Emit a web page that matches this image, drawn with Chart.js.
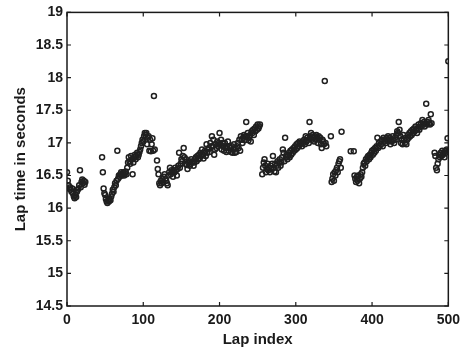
<!DOCTYPE html>
<html>
<head>
<meta charset="utf-8">
<script src="https://cdn.jsdelivr.net/npm/chart.js@4.4.0/dist/chart.umd.min.js"></script>
<style>
  html, body { margin: 0; padding: 0; background: #fff; }
  #wrap { width: 466px; height: 351px; position: relative; }
</style>
</head>
<body>
<div id="wrap"><canvas id="lapChart"></canvas></div>
<script>
// first lap index of each run of consecutive laps
const segStarts = [0, 46, 118, 256, 346, 376, 482];

// lap times (s) of each run
const seg0 = [16.55, 16.42, 16.35, 16.30, 16.32, 16.28, 16.25, 16.30, 16.22, 16.18, 16.15, 16.20, 16.17,
  16.25, 16.28, 16.30, 16.35, 16.58, 16.32, 16.40, 16.44, 16.38, 16.42, 16.36, 16.40];
const seg1 = [16.78, 16.55, 16.30, 16.23, 16.20, 16.14, 16.10, 16.08, 16.12, 16.10, 16.14, 16.12, 16.18,
  16.22, 16.28, 16.25, 16.32, 16.38, 16.35, 16.42, 16.88, 16.45, 16.50, 16.48, 16.52, 16.55, 16.50, 16.52,
  16.55, 16.50, 16.53, 16.56, 16.52, 16.62, 16.70, 16.78, 16.72, 16.68, 16.80, 16.75, 16.52, 16.70, 16.78,
  16.82, 16.75, 16.80, 16.85, 16.78, 16.82, 16.86, 16.90, 16.95, 17.00, 17.05, 17.02, 17.10, 17.15, 17.12,
  17.15, 16.98, 17.08, 17.10, 16.88, 17.05, 16.87, 16.98, 17.07, 16.88, 17.72, 16.90];
const seg2 = [16.73, 16.60, 16.52, 16.38, 16.35, 16.42, 16.38, 16.45, 16.40, 16.48, 16.52, 16.45, 16.42,
  16.38, 16.35, 16.50, 16.55, 16.62, 16.52, 16.58, 16.55, 16.48, 16.58, 16.55, 16.62, 16.58, 16.50, 16.60,
  16.65, 16.85, 16.62, 16.68, 16.75, 16.72, 16.80, 16.92, 16.78, 16.68, 16.75, 16.66, 16.60, 16.70, 16.72,
  16.65, 16.68, 16.75, 16.70, 16.72, 16.65, 16.70, 16.75, 16.78, 16.72, 16.80, 16.75, 16.82, 16.76, 16.85,
  16.80, 16.90, 16.82, 16.76, 16.85, 16.88, 16.80, 16.98, 16.85, 16.90, 16.92, 16.86, 17.00, 16.95, 17.10,
  16.95, 17.05, 16.82, 16.90, 16.98, 16.92, 17.02, 16.95, 17.00, 17.15, 16.98, 17.05, 16.90, 17.00, 16.95,
  16.88, 17.00, 16.92, 16.86, 16.95, 17.02, 16.88, 16.95, 16.92, 16.86, 16.95, 16.85, 16.90, 16.98, 16.85,
  16.92, 16.86, 16.95, 17.00, 16.92, 17.05, 16.88, 17.10, 17.05, 17.00, 17.08, 17.12, 17.04, 17.10, 17.32,
  17.10, 17.15, 17.04, 17.08, 17.12, 17.02, 17.18, 17.15, 17.20, 17.12, 17.22, 17.18, 17.25, 17.20, 17.28,
  17.22, 17.25, 17.28];
const seg3 = [16.52, 16.62, 16.70, 16.75, 16.65, 16.55, 16.60, 16.68, 16.58, 16.62, 16.55, 16.65, 16.60,
  16.68, 16.80, 16.62, 16.56, 16.68, 16.55, 16.65, 16.72, 16.62, 16.70, 16.75, 16.65, 16.70, 16.78, 16.90,
  16.85, 16.72, 17.08, 16.78, 16.82, 16.75, 16.80, 16.85, 16.78, 16.88, 16.82, 16.90, 16.85, 16.92, 16.88,
  16.95, 16.90, 16.98, 16.92, 17.00, 16.95, 17.02, 16.98, 17.00, 16.95, 17.02, 17.00, 17.05, 16.98, 17.10,
  17.02, 17.08, 17.05, 17.00, 17.32, 17.10, 17.15, 17.05, 17.12, 17.08, 17.02, 17.10, 17.05, 17.12, 17.08,
  17.00, 17.10, 17.05, 17.08, 16.98, 16.92, 17.05, 17.02, 16.98, 17.95, 17.00, 16.95];
const seg4 = [17.10, 16.40, 16.45, 16.52, 16.42, 16.55, 16.50, 16.58, 16.62, 16.55, 16.68, 16.72, 16.75,
  16.62, 17.17];
const seg5 = [16.87, 16.50, 16.45, 16.40, 16.48, 16.42, 16.50, 16.38, 16.45, 16.52, 16.48, 16.55, 16.62,
  16.68, 16.70, 16.65, 16.75, 16.72, 16.78, 16.80, 16.75, 16.82, 16.78, 16.85, 16.88, 16.82, 16.90, 16.85,
  16.92, 16.88, 16.95, 17.08, 16.92, 17.00, 16.95, 17.02, 16.98, 17.05, 16.95, 17.08, 17.02, 17.05, 17.00,
  17.08, 17.05, 17.10, 17.02, 17.08, 16.98, 17.05, 17.02, 17.10, 17.05, 17.00, 17.08, 17.05, 17.12, 17.18,
  17.15, 17.32, 17.20, 17.10, 17.00, 17.05, 16.98, 17.12, 17.05, 17.00, 17.08, 16.98, 17.05, 17.12, 17.08,
  17.15, 17.10, 17.18, 17.12, 17.20, 17.15, 17.22, 17.18, 17.25, 17.20, 17.15, 17.22, 17.28, 17.20, 17.25,
  17.30, 17.25, 17.35, 17.28, 17.32, 17.25, 17.30, 17.60, 17.28, 17.32, 17.35, 17.30, 17.28, 17.44, 17.30];
const seg6 = [16.85, 16.80, 16.62, 16.58, 16.68, 16.75, 16.82, 16.78, 16.85, 16.80, 16.88, 16.82, 16.85,
  16.78, 16.88, 16.85, 16.90, 17.07, 18.25];

// stray repeated points
const extraLaps = [500, 372];
const extraTimes = [16.88, 16.87];

const xTicks = [0, 100, 200, 300, 400, 500];
const yTicks = [14.5, 15, 15.5, 16, 16.5, 17, 17.5, 18, 18.5, 19];

const segTimes = [seg0, seg1, seg2, seg3, seg4, seg5, seg6];
const points = [];
segTimes.forEach(function (arr, s) {
  arr.forEach(function (t, i) { points.push({ x: segStarts[s] + i, y: t }); });
});
extraLaps.forEach(function (l, i) { points.push({ x: l, y: extraTimes[i] }); });

const ink = '#1a1a1a';
const font = { family: '"Liberation Sans", Arial, sans-serif', size: 14, weight: 'bold' };

// MATLAB-style box with inward ticks
const boxPlugin = {
  id: 'box',
  afterDraw(chart) {
    const c = chart.ctx, a = chart.chartArea;
    const xs = chart.scales.x, ys = chart.scales.y;
    c.save();
    c.strokeStyle = ink;
    c.lineWidth = 1.5;
    c.strokeRect(a.left, a.top, a.right - a.left, a.bottom - a.top);
    c.lineWidth = 1.2;
    c.beginPath();
    xTicks.forEach(function (v) {
      const px = xs.getPixelForValue(v);
      c.moveTo(px, a.bottom); c.lineTo(px, a.bottom - 4);
      c.moveTo(px, a.top); c.lineTo(px, a.top + 4);
    });
    yTicks.forEach(function (v) {
      const py = ys.getPixelForValue(v);
      c.moveTo(a.left, py); c.lineTo(a.left + 4, py);
      c.moveTo(a.right, py); c.lineTo(a.right - 4, py);
    });
    c.stroke();
    c.restore();
  }
};

new Chart(document.getElementById('lapChart'), {
  type: 'scatter',
  data: {
    datasets: [{
      data: points,
      pointStyle: 'circle',
      pointRadius: 2.5,
      pointBorderWidth: 1.5,
      borderColor: '#202020',
      backgroundColor: 'rgba(0,0,0,0)',
      pointHoverRadius: 2.5
    }]
  },
  options: {
    responsive: true,
    maintainAspectRatio: false,
    animation: false,
    events: [],
    layout: { padding: { top: 12, right: 15, left: 0, bottom: 0 } },
    plugins: { legend: { display: false }, tooltip: { enabled: false } },
    scales: {
      x: {
        type: 'linear', min: 0, max: 500,
        afterBuildTicks: function (s) { s.ticks = xTicks.map(function (v) { return { value: v }; }); },
        afterFit: function (s) { s.height = 45; },
        grid: { display: false, drawTicks: false },
        border: { display: false },
        ticks: { color: ink, font: font, padding: 6, maxRotation: 0 },
        title: { display: true, text: 'Lap index', color: ink,
          font: { family: font.family, size: 15, weight: 'bold' }, padding: { top: 0, bottom: 2 } }
      },
      y: {
        type: 'linear', min: 14.5, max: 19,
        afterBuildTicks: function (s) { s.ticks = yTicks.map(function (v) { return { value: v }; }); },
        afterFit: function (s) { s.width = 67; },
        grid: { display: false, drawTicks: false },
        border: { display: false },
        ticks: { color: ink, font: font, padding: 4, callback: function (v) { return String(v); } },
        title: { display: true, text: 'Lap time in seconds', color: ink,
          font: { family: font.family, size: 15, weight: 'bold' }, padding: { top: 12, bottom: 0 } }
      }
    }
  },
  plugins: [boxPlugin]
});
</script>
</body>
</html>
